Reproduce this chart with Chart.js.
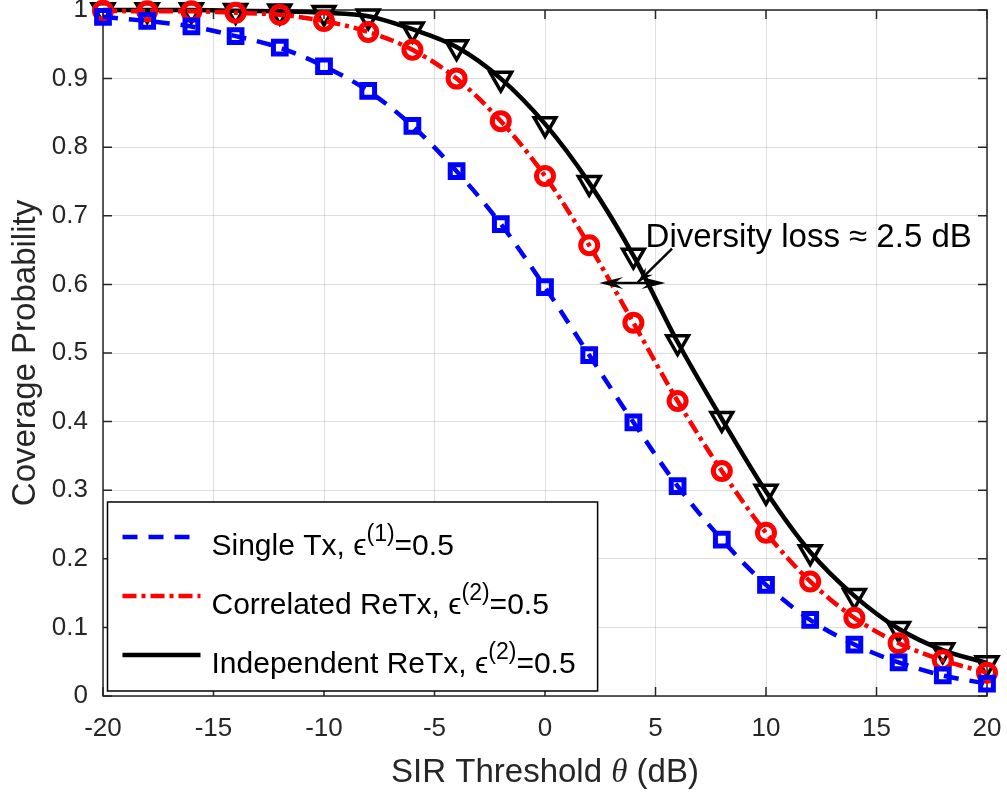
<!DOCTYPE html>
<html>
<head>
<meta charset="utf-8">
<script src="https://cdn.jsdelivr.net/npm/chart.js@4.4.0/dist/chart.umd.min.js"></script>
<style>
  html, body { margin: 0; padding: 0; background: #ffffff; }
  #wrap { width: 1007px; height: 793px; }
</style>
</head>
<body>
<div id="wrap"><canvas id="c" width="1007" height="793"></canvas></div>
<script>
// ---------------- data ----------------
const sirThreshold = [-20, -18, -16, -14, -12, -10, -8, -6, -4, -2, 0, 2, 4, 6, 8, 10, 12, 14, 16, 18, 20];
const singleTx = [0.990, 0.984, 0.976, 0.962, 0.945, 0.918, 0.882, 0.831, 0.765, 0.688, 0.596, 0.497, 0.399, 0.306, 0.228, 0.162, 0.111, 0.075, 0.049, 0.030, 0.018];
const correlatedReTx = [0.999, 0.998, 0.998, 0.996, 0.993, 0.984, 0.968, 0.942, 0.900, 0.838, 0.758, 0.657, 0.544, 0.430, 0.328, 0.238, 0.167, 0.114, 0.077, 0.052, 0.034];
const independentReTx = [1.000, 1.000, 1.000, 0.999, 0.998, 0.996, 0.991, 0.972, 0.946, 0.900, 0.834, 0.748, 0.642, 0.516, 0.404, 0.298, 0.210, 0.146, 0.098, 0.067, 0.048];
const seriesLabels = ["Single Tx, ϵ^{(1)}=0.5", "Correlated ReTx, ϵ^{(2)}=0.5", "Independent ReTx, ϵ^{(2)}=0.5"];
const xTickValues = [-20, -15, -10, -5, 0, 5, 10, 15, 20];
const xTickLabels = ["-20", "-15", "-10", "-5", "0", "5", "10", "15", "20"];
const yTickValues = [0, 0.1, 0.2, 0.3, 0.4, 0.5, 0.6, 0.7, 0.8, 0.9, 1];
const yTickLabels = ["0", "0.1", "0.2", "0.3", "0.4", "0.5", "0.6", "0.7", "0.8", "0.9", "1"];
const xTitleParts = ["SIR Threshold ", "θ", " (dB)"];
const yTitle = "Coverage Probability";
const annotationText = "Diversity loss ≈ 2.5 dB";
// annotation geometry in data units (x in dB, y in probability)
const annoTextAt = { x: 4.55, y: 0.655 };
const annoPointer = { x1: 5.75, y1: 0.652, x2: 4.2, y2: 0.603 };
const annoSpan = { x1: 2.45, x2: 5.45, y: 0.602 };

// ---------------- style ----------------
const FONT = '"Liberation Sans", Arial, Helvetica, sans-serif';
const TXT = '#262626';

function toPoints(ys) { return sirThreshold.map((x, i) => ({ x: x, y: ys[i] })); }

function richSegments(str) {
  const out = []; const re = /\^\{([^}]*)\}/g; let last = 0, m;
  while ((m = re.exec(str))) {
    if (m.index > last) out.push({ t: str.slice(last, m.index), sup: false });
    out.push({ t: m[1], sup: true });
    last = re.lastIndex;
  }
  if (last < str.length) out.push({ t: str.slice(last), sup: false });
  return out;
}
function richWidth(ctx, str, size) {
  let w = 0;
  for (const s of richSegments(str)) {
    ctx.font = (s.sup ? Math.round(size * 0.75) : size) + 'px ' + FONT;
    w += ctx.measureText(s.t).width;
  }
  return w;
}
function drawRich(ctx, str, x, y, size) {
  ctx.textBaseline = 'alphabetic'; ctx.textAlign = 'left';
  for (const s of richSegments(str)) {
    ctx.font = (s.sup ? Math.round(size * 0.75) : size) + 'px ' + FONT;
    ctx.fillText(s.t, x, s.sup ? y - size * 0.47 : y);
    x += ctx.measureText(s.t).width;
  }
}

const framePlugin = {
  id: 'frame',
  beforeDatasetsDraw(chart) {
    const { ctx, chartArea: a, scales } = chart;
    ctx.save();
    ctx.strokeStyle = TXT; ctx.lineWidth = 1.5;
    ctx.strokeRect(a.left, a.top, a.right - a.left, a.bottom - a.top);
    const L = 9;
    ctx.beginPath();
    xTickValues.forEach(v => {
      const px = scales.x.getPixelForValue(v);
      ctx.moveTo(px, a.bottom); ctx.lineTo(px, a.bottom - L);
      ctx.moveTo(px, a.top); ctx.lineTo(px, a.top + L);
    });
    yTickValues.forEach(v => {
      const py = scales.y.getPixelForValue(v);
      ctx.moveTo(a.left, py); ctx.lineTo(a.left + L, py);
      ctx.moveTo(a.right, py); ctx.lineTo(a.right - L, py);
    });
    ctx.stroke();
    ctx.restore();
  },
  afterDraw(chart) {
    // x-axis title with italic theta
    const { ctx, chartArea: a } = chart;
    ctx.save();
    ctx.fillStyle = TXT; ctx.textBaseline = 'alphabetic'; ctx.textAlign = 'left';
    const size = 33;
    const fonts = [size + 'px ' + FONT, 'italic ' + size + 'px "Liberation Serif", "Times New Roman", serif', size + 'px ' + FONT];
    let total = 0;
    xTitleParts.forEach((t, i) => { ctx.font = fonts[i]; total += ctx.measureText(t).width; });
    let x = (a.left + a.right) / 2 - total / 2;
    const y = 782;
    xTitleParts.forEach((t, i) => { ctx.font = fonts[i]; ctx.fillText(t, x, y); x += ctx.measureText(t).width; });
    ctx.restore();
  }
};

function arrowHead(ctx, tipX, tipY, ang, len, half) {
  const bx = tipX - Math.cos(ang) * len, by = tipY - Math.sin(ang) * len;
  const nx = -Math.sin(ang), ny = Math.cos(ang);
  const notchX = tipX - Math.cos(ang) * len * 0.65, notchY = tipY - Math.sin(ang) * len * 0.65;
  ctx.beginPath();
  ctx.moveTo(tipX, tipY);
  ctx.lineTo(bx + nx * half, by + ny * half);
  ctx.lineTo(notchX, notchY);
  ctx.lineTo(bx - nx * half, by - ny * half);
  ctx.closePath();
  ctx.fill();
}

const overlayPlugin = {
  id: 'overlay',
  afterDatasetsDraw(chart) {
    const { ctx, chartArea: a, scales } = chart;
    const X = v => scales.x.getPixelForValue(v), Y = v => scales.y.getPixelForValue(v);
    ctx.save();
    // ---- annotation ----
    ctx.fillStyle = '#000'; ctx.strokeStyle = '#000'; ctx.lineWidth = 2.5;
    ctx.font = '33px ' + FONT; ctx.textBaseline = 'alphabetic'; ctx.textAlign = 'left';
    ctx.fillText(annotationText, X(annoTextAt.x), Y(annoTextAt.y));
    // pointer line
    const px1 = X(annoPointer.x1), py1 = Y(annoPointer.y1), px2 = X(annoPointer.x2), py2 = Y(annoPointer.y2);
    ctx.beginPath(); ctx.moveTo(px1, py1); ctx.lineTo(px2, py2); ctx.stroke();
    arrowHead(ctx, px2, py2, Math.atan2(py2 - py1, px2 - px1), 16, 5);
    // double arrow
    const sx1 = X(annoSpan.x1), sx2 = X(annoSpan.x2), sy = Y(annoSpan.y);
    ctx.beginPath(); ctx.moveTo(sx1 + 10, sy); ctx.lineTo(sx2 - 10, sy); ctx.stroke();
    arrowHead(ctx, sx1, sy, Math.PI, 24, 6);
    arrowHead(ctx, sx2, sy, 0, 24, 6);

    // ---- legend ----
    const size = 30;
    const sets = chart.data.datasets;
    let maxW = 0;
    sets.forEach(d => { maxW = Math.max(maxW, richWidth(ctx, d.label, size)); });
    const bx = a.left + 4.5, rowH = 59;
    const bw = 15 + 78 + 11 + maxW + 22;
    const bh = 35 + rowH * 2 + 36;
    const by = a.bottom - 5 - bh;
    ctx.fillStyle = '#ffffff';
    ctx.fillRect(bx, by, bw, bh);
    ctx.strokeStyle = '#000'; ctx.lineWidth = 1.5; ctx.setLineDash([]);
    ctx.strokeRect(bx, by, bw, bh);
    sets.forEach((d, i) => {
      const ly = by + 35 + i * rowH;
      ctx.save();
      ctx.strokeStyle = d.borderColor; ctx.lineWidth = d.borderWidth;
      ctx.setLineDash(d.borderDash || []);
      ctx.beginPath(); ctx.moveTo(bx + 15, ly); ctx.lineTo(bx + 93, ly); ctx.stroke();
      ctx.restore();
      ctx.fillStyle = '#000';
      drawRich(ctx, d.label, bx + 104, ly + 18, size);
    });
    ctx.restore();
  }
};

const ctx = document.getElementById('c').getContext('2d');
new Chart(ctx, {
  type: 'line',
  data: {
    datasets: [
      {
        label: seriesLabels[0], data: toPoints(singleTx),
        borderColor: '#0000ff', borderWidth: 4.5, borderDash: [15, 11],
        pointStyle: 'rect', pointRadius: 9, pointBorderWidth: 5,
        pointBorderColor: '#0000ff', pointBackgroundColor: 'rgba(0,0,0,0)',
        cubicInterpolationMode: 'monotone', clip: false
      },
      {
        label: seriesLabels[1], data: toPoints(correlatedReTx),
        borderColor: '#ff0000', borderWidth: 4.5, borderDash: [14, 5, 4, 5],
        pointStyle: 'circle', pointRadius: 8.5, pointBorderWidth: 5,
        pointBorderColor: '#ff0000', pointBackgroundColor: 'rgba(0,0,0,0)',
        cubicInterpolationMode: 'monotone', clip: false
      },
      {
        label: seriesLabels[2], data: toPoints(independentReTx),
        borderColor: '#000000', borderWidth: 4.5, borderDash: [],
        pointStyle: 'triangle', pointRotation: 180, pointRadius: 12.5, pointBorderWidth: 3.5,
        pointBorderColor: '#000000', pointBackgroundColor: 'rgba(0,0,0,0)',
        cubicInterpolationMode: 'monotone', clip: false
      }
    ]
  },
  options: {
    responsive: false,
    animation: false,
    devicePixelRatio: 1,
    layout: { autoPadding: false, padding: { top: 10, right: 20, left: 0, bottom: 0 } },
    plugins: { legend: { display: false }, tooltip: { enabled: false } },
    elements: { line: { fill: false } },
    scales: {
      x: {
        type: 'linear', min: -20, max: 20,
        afterBuildTicks: s => { s.ticks = xTickValues.map(v => ({ value: v })); },
        afterFit: s => { s.height = 97; s.paddingLeft = 0; s.paddingRight = 0; },
        ticks: {
          font: { family: FONT, size: 26 }, color: TXT, padding: 17, maxRotation: 0,
          callback: (v) => xTickLabels[xTickValues.indexOf(v)]
        },
        grid: { color: 'rgba(38,38,38,0.15)', lineWidth: 1, drawTicks: false },
        border: { display: false }
      },
      y: {
        type: 'linear', min: 0, max: 1,
        afterBuildTicks: s => { s.ticks = yTickValues.map(v => ({ value: v })); },
        afterFit: s => { s.width = 103; s.paddingTop = 0; s.paddingBottom = 0; },
        ticks: {
          font: { family: FONT, size: 26 }, color: TXT, padding: 15,
          callback: (v) => { const i = yTickValues.findIndex(t => Math.abs(t - v) < 1e-9); return yTickLabels[i]; }
        },
        title: { display: true, text: yTitle, font: { family: FONT, size: 33 }, color: TXT, padding: { top: 6, bottom: 0 } },
        grid: { color: 'rgba(38,38,38,0.15)', lineWidth: 1, drawTicks: false },
        border: { display: false }
      }
    }
  },
  plugins: [framePlugin, overlayPlugin]
});
</script>
</body>
</html>
